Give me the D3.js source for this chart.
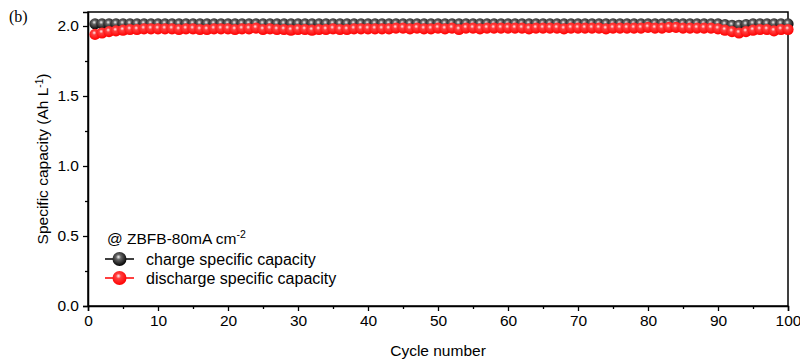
<!DOCTYPE html>
<html>
<head>
<meta charset="utf-8">
<script src="https://cdn.jsdelivr.net/npm/d3@7/dist/d3.min.js"></script>
<style>
  html, body { margin: 0; padding: 0; background: #fff; }
  svg { display: block; font-family: "Liberation Sans", Arial, sans-serif; }
</style>
</head>
<body>
<svg id="chart" width="800" height="363"></svg>
<script>
// Cycle numbers 1..100
const cycles = Array.from({length: 100}, (_, i) => i + 1);

// Charge specific capacity (Ah L^-1)
const chargeCapacity = [
  2.015, 2.015, 2.015, 2.015, 2.015, 2.015, 2.015, 2.015, 2.015, 2.015,
  2.015, 2.015, 2.015, 2.015, 2.015, 2.015, 2.015, 2.015, 2.015, 2.015,
  2.015, 2.015, 2.015, 2.015, 2.015, 2.015, 2.015, 2.015, 2.015, 2.015,
  2.015, 2.015, 2.015, 2.015, 2.015, 2.015, 2.015, 2.015, 2.015, 2.015,
  2.015, 2.015, 2.015, 2.015, 2.015, 2.015, 2.015, 2.015, 2.015, 2.015,
  2.015, 2.015, 2.015, 2.015, 2.015, 2.015, 2.015, 2.015, 2.015, 2.015,
  2.015, 2.015, 2.015, 2.015, 2.015, 2.015, 2.015, 2.015, 2.015, 2.015,
  2.015, 2.015, 2.015, 2.015, 2.015, 2.015, 2.015, 2.015, 2.015, 2.015,
  2.015, 2.015, 2.015, 2.015, 2.015, 2.015, 2.015, 2.015, 2.015, 2.015,
  2.01, 2.005, 2.005, 2.01, 2.015, 2.015, 2.015, 2.015, 2.015, 2.015
];

// Discharge specific capacity (Ah L^-1)
const dischargeCapacity = [
  1.94, 1.95, 1.96, 1.965, 1.97, 1.975, 1.975, 1.98, 1.98, 1.98,
  1.98, 1.98, 1.975, 1.98, 1.98, 1.975, 1.975, 1.98, 1.98, 1.98,
  1.975, 1.98, 1.98, 1.985, 1.975, 1.98, 1.975, 1.975, 1.97, 1.975,
  1.975, 1.97, 1.975, 1.975, 1.98, 1.975, 1.975, 1.98, 1.98, 1.98,
  1.98, 1.98, 1.98, 1.985, 1.985, 1.98, 1.985, 1.98, 1.98, 1.985,
  1.98, 1.985, 1.975, 1.985, 1.985, 1.98, 1.985, 1.985, 1.985, 1.985,
  1.985, 1.985, 1.98, 1.985, 1.985, 1.985, 1.985, 1.98, 1.985, 1.985,
  1.985, 1.985, 1.985, 1.98, 1.985, 1.985, 1.985, 1.985, 1.985, 1.99,
  1.985, 1.985, 1.99, 1.99, 1.985, 1.985, 1.985, 1.985, 1.985, 1.98,
  1.97, 1.96, 1.95, 1.96, 1.97, 1.975, 1.975, 1.965, 1.975, 1.975
];

const xTicks = [0, 10, 20, 30, 40, 50, 60, 70, 80, 90, 100];
const yTicks = [0.0, 0.5, 1.0, 1.5, 2.0];
const seriesNames = ["charge specific capacity", "discharge specific capacity"];

const svg = d3.select("#chart");
const margin = {left: 88, right: 12, top: 12, bottom: 57};
const W = 800, H = 363;
const x = d3.scaleLinear().domain([0, 100]).range([margin.left, W - margin.right]);
const y = d3.scaleLinear().domain([0, 2.1]).range([H - margin.bottom, margin.top]);

// Sphere-like marker fills
const defs = svg.append("defs");
function sphere(id, edge, mid, hi) {
  const g = defs.append("radialGradient").attr("id", id)
    .attr("cx", "45%").attr("cy", "40%").attr("r", "60%").attr("fx", "42%").attr("fy", "35%");
  g.append("stop").attr("offset", "0%").attr("stop-color", hi);
  g.append("stop").attr("offset", "30%").attr("stop-color", mid);
  g.append("stop").attr("offset", "100%").attr("stop-color", edge);
}
sphere("gBlack", "#000", "#666", "#f6f6f6");
sphere("gRed", "#ff0000", "#ff4040", "#fff4f4");

// Frame
svg.append("rect")
  .attr("x", x(0)).attr("y", y(2.1))
  .attr("width", x(100) - x(0)).attr("height", y(0) - y(2.1))
  .attr("fill", "none").attr("stroke", "#000").attr("stroke-width", 1.5);

// Axes
svg.append("g").attr("transform", `translate(0,${y(0)})`)
  .call(d3.axisBottom(x).tickValues(xTicks).tickSize(5).tickPadding(4).tickFormat(d3.format("d")));
svg.append("g").attr("transform", `translate(0,${y(0)})`)
  .call(d3.axisBottom(x).tickValues(d3.range(5, 100, 10)).tickSize(3).tickFormat(""))
  .select(".domain").remove();
svg.append("g").attr("transform", `translate(${x(0)},0)`)
  .call(d3.axisLeft(y).tickValues(yTicks).tickSize(5).tickPadding(4).tickFormat(d3.format(".1f")));
svg.append("g").attr("transform", `translate(${x(0)},0)`)
  .call(d3.axisLeft(y).tickValues([0.25, 0.75, 1.25, 1.75]).tickSize(3).tickFormat(""))
  .select(".domain").remove();

svg.selectAll(".tick line").attr("stroke", "#000").attr("stroke-width", 1.3);
svg.selectAll(".domain").attr("stroke", "#000").attr("stroke-width", 1.5);
svg.selectAll(".tick text").attr("font-size", 15.5).attr("fill", "#000")
  .attr("font-family", "'Liberation Sans', Arial, sans-serif");

// Axis titles
svg.append("text").attr("x", x(50)).attr("y", 356).attr("text-anchor", "middle")
  .attr("font-size", 15.5).text("Cycle number");
const yt = svg.append("text")
  .attr("transform", `translate(48,${(y(0) + y(2.1)) / 2}) rotate(-90)`)
  .attr("text-anchor", "middle").attr("font-size", 15.5);
yt.append("tspan").text("Specific capacity (Ah L");
yt.append("tspan").attr("dy", -5).attr("font-size", 10).text("-1");
yt.append("tspan").attr("dy", 5).text(")");

// Panel label
svg.append("text").attr("x", 9).attr("y", 22)
  .attr("font-family", "'Liberation Serif', 'Times New Roman', serif")
  .attr("font-size", 16).text("(b)");

// Series
const line = (vals) => d3.line().x((d, i) => x(cycles[i])).y(d => y(d))(vals);
const R = 5.6;

svg.append("path").attr("d", line(chargeCapacity)).attr("fill", "none")
  .attr("stroke", "#000").attr("stroke-width", 1.5);
svg.append("g").selectAll("circle").data(chargeCapacity).join("circle")
  .attr("cx", (d, i) => x(cycles[i])).attr("cy", d => y(d)).attr("r", R)
  .attr("fill", "url(#gBlack)");

svg.append("path").attr("d", line(dischargeCapacity)).attr("fill", "none")
  .attr("stroke", "#ff0000").attr("stroke-width", 1.5);
svg.append("g").selectAll("circle").data(dischargeCapacity).join("circle")
  .attr("cx", (d, i) => x(cycles[i])).attr("cy", d => y(d)).attr("r", R)
  .attr("fill", "url(#gRed)");

// Legend
const lg = svg.append("g");
const lt = lg.append("text").attr("x", 107).attr("y", 244).attr("font-size", 15.5);
lt.append("tspan").text("@ ZBFB-80mA cm");
lt.append("tspan").attr("dy", -6).attr("font-size", 10.5).text("-2");

const legendItems = [
  {name: seriesNames[0], stroke: "#000", fill: "url(#gBlack)", yy: 259},
  {name: seriesNames[1], stroke: "#ff0000", fill: "url(#gRed)", yy: 278}
];
legendItems.forEach(it => {
  lg.append("line").attr("x1", 105).attr("x2", 134).attr("y1", it.yy).attr("y2", it.yy)
    .attr("stroke", it.stroke).attr("stroke-width", 1.5);
  lg.append("circle").attr("cx", 119.5).attr("cy", it.yy).attr("r", 7).attr("fill", it.fill);
  lg.append("text").attr("x", 146).attr("y", it.yy + 5.5).attr("font-size", 16).text(it.name);
});
</script>
</body>
</html>
